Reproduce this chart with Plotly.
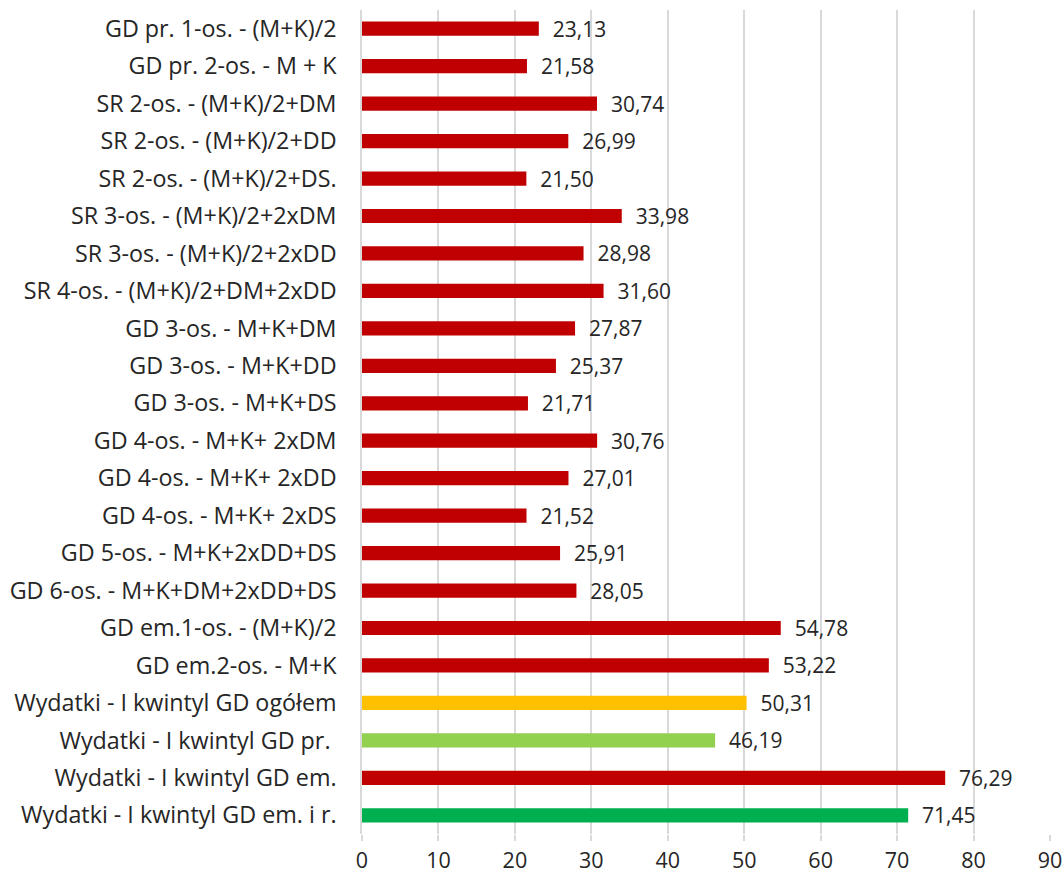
import plotly.graph_objects as go

categories = [
    "GD pr. 1-os. - (M+K)/2",
    "GD pr. 2-os. - M + K",
    "SR 2-os. - (M+K)/2+DM",
    "SR 2-os. - (M+K)/2+DD",
    "SR 2-os. - (M+K)/2+DS.",
    "SR 3-os. - (M+K)/2+2xDM",
    "SR 3-os. - (M+K)/2+2xDD",
    "SR 4-os. - (M+K)/2+DM+2xDD",
    "GD 3-os. - M+K+DM",
    "GD 3-os. - M+K+DD",
    "GD 3-os. - M+K+DS",
    "GD 4-os. - M+K+ 2xDM",
    "GD 4-os. - M+K+ 2xDD",
    "GD 4-os. - M+K+ 2xDS",
    "GD 5-os. - M+K+2xDD+DS",
    "GD 6-os. - M+K+DM+2xDD+DS",
    "GD em.1-os. - (M+K)/2",
    "GD em.2-os. - M+K",
    "Wydatki - I kwintyl GD ogółem",
    "Wydatki - I kwintyl GD pr. ",
    "Wydatki - I kwintyl GD em.",
    "Wydatki - I kwintyl GD em. i r.",
]
values = [23.13, 21.58, 30.74, 26.99, 21.50, 33.98, 28.98, 31.60, 27.87, 25.37,
          21.71, 30.76, 27.01, 21.52, 25.91, 28.05, 54.78, 53.22, 50.31, 46.19,
          76.29, 71.45]
colors = ["#C00000"] * 18 + ["#FFC000", "#92D050", "#C00000", "#00B050"]
labels = ["\u00a0\u00a0" + f"{v:.2f}".replace(".", ",") for v in values]
x_ticks = list(range(0, 91, 10))

FONT = "Open Sans"

fig = go.Figure(go.Bar(
    y=categories, x=values, orientation="h",
    marker=dict(color=colors, line=dict(width=0)),
    text=labels, textposition="outside", cliponaxis=False,
    constraintext="none",
    textfont=dict(family=FONT, size=21, color="#262626"),
))

fig.update_layout(
    width=1062, height=873,
    margin=dict(l=362, r=12, t=10, b=39),
    paper_bgcolor="white", plot_bgcolor="white",
    bargap=0.62,
    showlegend=False,
    font=dict(family=FONT, size=21, color="#262626"),
    xaxis=dict(range=[0, 90], tickvals=x_ticks, showgrid=True,
               gridcolor="#D9D9D9", gridwidth=1.5, zeroline=False,
               ticks="outside", ticklen=6, tickcolor="#D9D9D9", tickwidth=1.5,
               showline=False, tickfont=dict(size=21.5), ticklabelstandoff=1,
               ticklabeloverflow="allow", automargin=False),
    yaxis=dict(autorange="reversed", showgrid=False, zeroline=False,
               showline=True, linecolor="#D9D9D9", linewidth=1.5,
               ticks="", ticklabelstandoff=19, tickfont=dict(size=23.3),
               automargin=False),
)

# remove the default page margin so the figure fills the window exactly
fig.write_html(
    "out.html",
    config={"displayModeBar": False},
    post_script="document.body.style.margin='0';document.body.style.overflow='hidden';",
)
